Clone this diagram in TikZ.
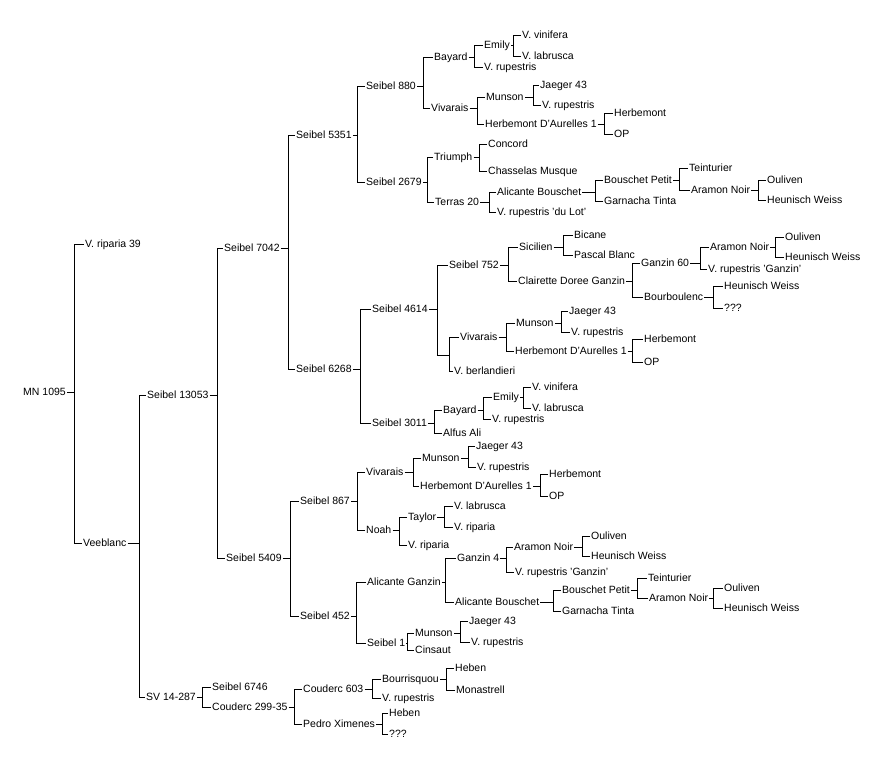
\documentclass[tikz,border=0pt]{standalone}
\usepackage{fontspec}
\setmainfont{Liberation Sans}
\begin{document}
\begin{tikzpicture}[x=1pt,y=-1pt,
  lbl/.style={anchor=west,inner xsep=1pt,inner ysep=0pt,text height=7.5pt,text depth=0pt,font=\fontsize{10.5}{12}\selectfont},
  hole/.style={inner sep=0pt,minimum size=0pt},
  link/.style={draw=black,line width=1pt}]
\fill[white] (0,0) rectangle (891,766);
\useasboundingbox (0,0) rectangle (891,766);
% parent nodes: id/x/y/bracket x/text
\foreach \i/\x/\y/\bx/\t in {
 1/22/392/74/MN 1095,
 3/82/543/139/Veeblanc,
 4/146/395/217/Seibel 13053,
 5/223/248/288/Seibel 7042,
 6/295/135/357/Seibel 5351,
 7/365/86/423/Seibel 880,
 8/433/57/474/Bayard,
 9/483/45/513/Emily,
 13/430/108/477/Vivarais,
 14/485/97/533/Munson,
 17/484/124/604/Herbemont D'Aurelles 1,
 20/365/182/427/Seibel 2679,
 21/433/157/479/Triumph,
 24/434/202/489/Terras 20,
 25/496/192/595/Alicante Bouschet,
 27/603/180/679/Bouschet Petit,
 30/690/190/758/Aramon Noir,
 33/295/369/360/Seibel 6268,
 34/371/309/437/Seibel 4614,
 35/448/265/508/Seibel 752,
 36/518/247/563/Sicilien,
 39/517/281/632/Clairette Doree Ganzin,
 40/640/263/700/Ganzin 60,
 41/709/247/775/Aramon Noir,
 45/643/297/713/Bourboulenc,
 49/459/337/506/Vivarais,
 50/515/323/561/Munson,
 53/514/351/632/Herbemont D'Aurelles 1,
 57/371/423/434/Seibel 3011,
 58/442/410/483/Bayard,
 59/492/397/523/Emily,
 64/225/558/290/Seibel 5409,
 65/299/501/357/Seibel 867,
 66/365/472/413/Vivarais,
 67/421/458/468/Munson,
 70/419/486/540/Herbemont D'Aurelles 1,
 73/365/530/399/Noah,
 74/407/517/444/Taylor,
 78/299/616/356/Seibel 452,
 79/366/582/445/Alicante Ganzin,
 80/456/558/506/Ganzin 4,
 81/513/547/582/Aramon Noir,
 85/454/602/553/Alicante Bouschet,
 86/561/590/637/Bouschet Petit,
 89/648/598/713/Aramon Noir,
 92/366/643/407/Seibel 1,
 93/414/633/460/Munson,
 97/145/697/202/SV 14-287,
 99/211/707/294/Couderc 299-35,
 100/302/689/372/Couderc 603,
 101/381/679/446/Bourrisquou,
 105/302/724/382/Pedro Ximenes}
 {\node[lbl] (n\i) at (\x,\y) {\t};
  \coordinate (b\i) at (\bx,\y);
  \draw[link] (n\i.east) -- (b\i);}
% the unnamed parent below Seibel 4614
\node[hole] (n48) at (437,355) {};
\coordinate (b48) at (449,355);
\draw[link] (n48) -- (b48);
% leaf nodes: id/x/y/text
\foreach \i/\x/\y/\t in {
 2/84/244/V. riparia 39,
 10/521/35/V. vinifera,
 11/521/56/V. labrusca,
 12/483/67/V. rupestris,
 15/539/85/Jaeger 43,
 16/541/105/V. rupestris,
 18/613/113/Herbemont,
 19/613/134/OP,
 22/487/144/Concord,
 23/487/171/Chasselas Musque,
 26/496/212/V. rupestris 'du Lot',
 28/603/201/Garnacha Tinta,
 29/688/168/Teinturier,
 31/766/180/Ouliven,
 32/766/200/Heunisch Weiss,
 37/573/235/Bicane,
 38/573/255/Pascal Blanc,
 42/784/237/Ouliven,
 43/784/257/Heunisch Weiss,
 44/707/269/V. rupestris 'Ganzin',
 46/723/286/Heunisch Weiss,
 47/723/308/???,
 51/568/311/Jaeger 43,
 52/570/332/V. rupestris,
 54/643/339/Herbemont,
 55/643/362/OP,
 56/453/371/V. berlandieri,
 60/531/387/V. vinifera,
 61/531/408/V. labrusca,
 62/491/419/V. rupestris,
 63/442/433/Alfus Ali,
 68/475/446/Jaeger 43,
 69/476/467/V. rupestris,
 71/548/474/Herbemont,
 72/548/496/OP,
 75/453/506/V. labrusca,
 76/453/527/V. riparia,
 77/407/545/V. riparia,
 82/590/536/Ouliven,
 83/590/556/Heunisch Weiss,
 84/514/572/V. rupestris 'Ganzin',
 87/561/611/Garnacha Tinta,
 88/647/578/Teinturier,
 90/723/588/Ouliven,
 91/723/608/Heunisch Weiss,
 94/468/621/Jaeger 43,
 95/470/642/V. rupestris,
 96/414/650/Cinsaut,
 98/211/687/Seibel 6746,
 102/454/668/Heben,
 103/455/690/Monastrell,
 104/381/698/V. rupestris,
 106/388/713/Heben,
 107/388/734/???}
 {\node[lbl] (n\i) at (\x,\y) {\t};}
% connectors parent/child
\foreach \p/\c in {1/2,1/3,3/4,3/97,4/5,4/64,5/6,5/33,6/7,6/20,7/8,7/13,8/9,8/12,
 9/10,9/11,13/14,13/17,14/15,14/16,17/18,17/19,20/21,20/24,21/22,21/23,24/25,24/26,
 25/27,25/28,27/29,27/30,30/31,30/32,33/34,33/57,34/35,34/48,35/36,35/39,36/37,36/38,
 39/40,39/45,40/41,40/44,41/42,41/43,45/46,45/47,48/49,48/56,49/50,49/53,50/51,50/52,
 53/54,53/55,57/58,57/63,58/59,58/62,59/60,59/61,64/65,64/78,65/66,65/73,66/67,66/70,
 67/68,67/69,70/71,70/72,73/74,73/77,74/75,74/76,78/79,78/92,79/80,79/85,80/81,80/84,
 81/82,81/83,85/86,85/87,86/88,86/89,89/90,89/91,92/93,92/96,93/94,93/95,97/98,97/99,
 99/100,99/105,100/101,100/104,101/102,101/103,105/106,105/107}
 {\draw[link] (n\c.west) -| (b\p);}
\end{tikzpicture}
\end{document}
